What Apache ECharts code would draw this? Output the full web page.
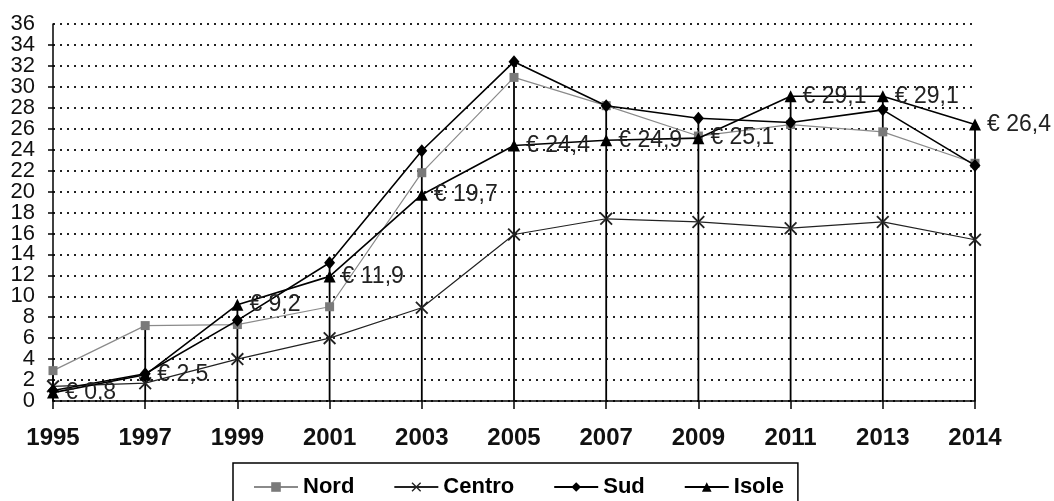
<!DOCTYPE html>
<html>
<head>
<meta charset="utf-8">
<script src="https://cdn.jsdelivr.net/npm/echarts@6/dist/echarts.min.js"></script>
<style>
html,body{margin:0;padding:0;background:#fff;}
#c{width:1054px;height:501px;}
</style>
</head>
<body>
<div id="c"></div>
<script>
var years = ['1995','1997','1999','2001','2003','2005','2007','2009','2011','2013','2014'];
var nord   = [2.9, 7.2, 7.3, 9.0, 21.8, 30.9, 28.2, 25.3, 26.4, 25.7, 22.7];
var centro = [1.4, 1.7, 4.0, 6.0, 8.9, 15.9, 17.4, 17.1, 16.5, 17.1, 15.4];
var sud    = [1.0, 2.6, 7.7, 13.2, 23.9, 32.4, 28.2, 27.0, 26.6, 27.8, 22.5];
var isole  = [0.8, 2.5, 9.2, 11.9, 19.7, 24.4, 24.9, 25.1, 29.1, 29.1, 26.4];
var yTicks = [0,2,4,6,8,10,12,14,16,18,20,22,24,26,28,30,32,34,36];

var FONT = '"Liberation Sans", Arial, sans-serif';
var crossPath = 'path://M0,1L1,0L10,9L9,10Z M9,0L10,1L1,10L0,9Z';
var yMin = yTicks[0], yMax = yTicks[yTicks.length - 1];

var dropData = years.map(function (y, i) {
  return [i, Math.max(nord[i], centro[i], sud[i], isole[i])];
});

var yLabelStyle = {margin: 18, fontFamily: FONT, fontSize: 22, color: '#111'};

var chart = echarts.init(document.getElementById('c'), null, {renderer: 'canvas'});
chart.setOption({
  animation: false,
  backgroundColor: '#fff',
  grid: {left: 53, right: 79, top: 24, bottom: 100, containLabel: false},
  legend: {
    left: 233,
    top: 463,
    width: 565,
    padding: [13, 14, 20, 20],
    borderColor: '#000',
    borderWidth: 1.5,
    itemWidth: 44,
    itemHeight: 12,
    itemGap: 39,
    textStyle: {fontFamily: FONT, fontWeight: 'bold', fontSize: 22, color: '#000'},
    data: ['Nord', 'Centro', 'Sud', 'Isole']
  },
  xAxis: {
    type: 'category',
    data: years,
    boundaryGap: false,
    axisLine: {lineStyle: {color: '#000', width: 1.5}},
    axisTick: {show: true, length: 8, inside: false, lineStyle: {color: '#000', width: 1.5}},
    axisLabel: {margin: 25, fontFamily: FONT, fontWeight: 'bold', fontSize: 24, color: '#111'},
    splitLine: {show: false}
  },
  yAxis: [
    {
      type: 'value',
      min: yMin, max: yMax, interval: 2,
      axisLine: {show: true, lineStyle: {color: '#000', width: 1.5}},
      axisTick: {show: true, length: 5, lineStyle: {color: '#000', width: 1.5}},
      axisLabel: Object.assign({showMinLabel: false, showMaxLabel: false}, yLabelStyle),
      splitLine: {show: true, lineStyle: {color: '#222', width: 2, type: [2, 5]}}
    },
    {
      type: 'value',
      position: 'left',
      min: yMin, max: yMax, interval: 2,
      axisLine: {show: false},
      axisTick: {show: false},
      splitLine: {show: false},
      axisLabel: Object.assign({
        showMinLabel: true, showMaxLabel: true,
        formatter: function (v) { return (v === yMin || v === yMax) ? String(v) : ''; }
      }, yLabelStyle)
    }
  ],
  series: [
    {
      name: 'drop',
      type: 'custom',
      silent: true,
      z: 1,
      data: dropData,
      renderItem: function (params, api) {
        var top = api.coord([api.value(0), api.value(1)]);
        var bot = api.coord([api.value(0), 0]);
        return {
          type: 'line',
          shape: {x1: top[0], y1: top[1], x2: bot[0], y2: bot[1]},
          style: {stroke: '#000', lineWidth: 1.8}
        };
      }
    },
    {
      name: 'Nord', type: 'line', data: nord,
      symbol: 'rect', symbolSize: 9,
      lineStyle: {color: '#8a8a8a', width: 1.2},
      itemStyle: {color: '#7a7a7a'},
      z: 3
    },
    {
      name: 'Centro', type: 'line', data: centro,
      symbol: crossPath, symbolSize: 13,
      lineStyle: {color: '#222', width: 1.2},
      itemStyle: {color: '#222'},
      z: 3
    },
    {
      name: 'Sud', type: 'line', data: sud,
      symbol: 'diamond', symbolSize: [11, 13],
      lineStyle: {color: '#000', width: 1.6},
      itemStyle: {color: '#000'},
      z: 4
    },
    {
      name: 'Isole', type: 'line', data: isole,
      symbol: 'triangle', symbolSize: [12, 12],
      lineStyle: {color: '#000', width: 1.6},
      itemStyle: {color: '#000'},
      z: 5,
      label: {
        show: true,
        position: 'right',
        distance: 6,
        fontFamily: FONT,
        fontSize: 23,
        color: '#222',
        formatter: function (p) {
          return '€ ' + String(p.value).replace('.', ',');
        }
      }
    }
  ]
});
</script>
</body>
</html>
